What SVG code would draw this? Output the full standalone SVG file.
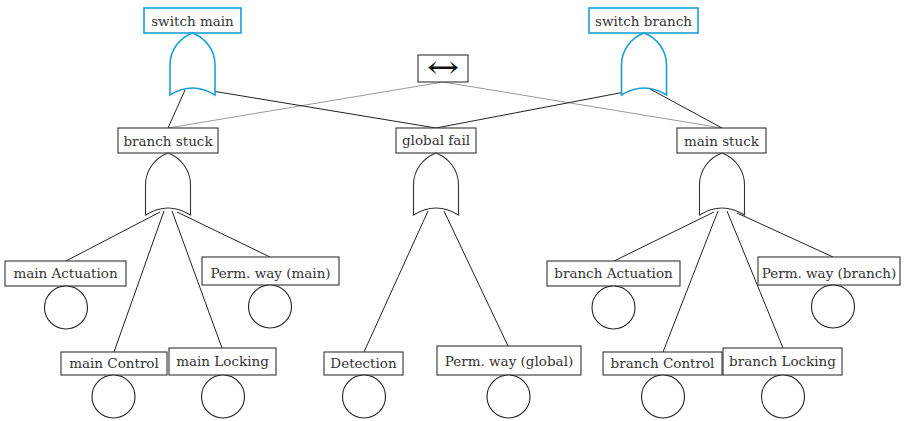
<svg xmlns="http://www.w3.org/2000/svg" width="909" height="421" viewBox="0 0 909 421">
  <defs>
    <style>
      .box { fill: #fff; stroke: #333; stroke-width: 1.1; }
      .box.top { stroke: #1a9fd6; stroke-width: 1.6; }
      .gate { fill: #fff; stroke: #333; stroke-width: 1.1; }
      .gate.top { stroke: #1a9fd6; stroke-width: 1.6; }
      .ev { fill: #fff; stroke: #222; stroke-width: 1.1; }
      .lbl { font-family: "DejaVu Serif", serif; font-size: 13.5px; fill: #333; text-anchor: middle; }
      .edge { stroke: #222; stroke-width: 1; fill: none; }
      .equiv { stroke: #999; stroke-width: 1; fill: none; }
    </style>
    <!-- OR gate outline, top point at (0,0), 45 wide, 62 tall -->
    <path id="orgate" d="M -22.5,62 L -22.5,32 C -22.5,17 -13,5 0,0 C 13,5 22.5,17 22.5,32 L 22.5,62 Q 0,48 -22.5,62 Z"/>
  </defs>

  <!-- connectors -->
  <g id="connectors">
    <line class="equiv" x1="443" y1="82" x2="168" y2="128"/>
    <line class="equiv" x1="443" y1="82" x2="722" y2="128"/>
    <line class="edge" x1="185" y1="90" x2="168" y2="128"/>
    <line class="edge" x1="200" y1="89" x2="436" y2="128"/>
    <line class="edge" x1="630" y1="91" x2="436" y2="128"/>
    <line class="edge" x1="650" y1="89" x2="722" y2="128"/>
    <!-- branch stuck inputs -->
    <line class="edge" x1="160" y1="212" x2="66" y2="261"/>
    <line class="edge" x1="164" y1="211" x2="114" y2="352"/>
    <line class="edge" x1="172" y1="211" x2="222" y2="348"/>
    <line class="edge" x1="177" y1="212" x2="270" y2="257"/>
    <!-- global fail inputs -->
    <line class="edge" x1="428" y1="211" x2="364" y2="352"/>
    <line class="edge" x1="444" y1="211" x2="508" y2="346"/>
    <!-- main stuck inputs -->
    <line class="edge" x1="714" y1="212" x2="614" y2="261"/>
    <line class="edge" x1="718" y1="211" x2="663" y2="352"/>
    <line class="edge" x1="727" y1="211" x2="783" y2="348"/>
    <line class="edge" x1="737" y1="213" x2="833" y2="257"/>
  </g>

  <!-- top events -->
  <g id="switch-main">
    <rect class="box top" x="144" y="8" width="97" height="25"/>
    <text class="lbl" x="192.5" y="26">switch main</text>
    <use href="#orgate" class="gate top" transform="translate(192.5,33)"/>
  </g>
  <g id="switch-branch">
    <rect class="box top" x="589" y="8" width="109" height="25"/>
    <text class="lbl" x="643.5" y="26">switch branch</text>
    <use href="#orgate" class="gate top" transform="translate(644,33)"/>
  </g>

  <!-- equivalence marker -->
  <g id="equivalence">
    <rect class="box" x="418" y="55" width="50" height="27"/>
    <text class="lbl" x="0" y="0" transform="translate(443,78) scale(1.2,1)" style="font-size:32px; fill:#111" font-family="DejaVu Sans, sans-serif">↔</text>
  </g>

  <!-- intermediate events -->
  <g id="branch-stuck">
    <rect class="box" x="118" y="128" width="100" height="25"/>
    <text class="lbl" x="168" y="146">branch stuck</text>
    <use href="#orgate" class="gate" transform="translate(168,153)"/>
  </g>
  <g id="global-fail">
    <rect class="box" x="396" y="128" width="80" height="25"/>
    <text class="lbl" x="436" y="144.5">global fail</text>
    <use href="#orgate" class="gate" transform="translate(436,153)"/>
  </g>
  <g id="main-stuck">
    <rect class="box" x="677" y="128" width="89" height="25"/>
    <text class="lbl" x="721.5" y="146">main stuck</text>
    <use href="#orgate" class="gate" transform="translate(722,153)"/>
  </g>

  <!-- basic events, branch stuck -->
  <g id="main-actuation">
    <rect class="box" x="5" y="261" width="121" height="25"/>
    <text class="lbl" x="65.5" y="278">main Actuation</text>
    <circle class="ev" cx="66" cy="307.5" r="21.5"/>
  </g>
  <g id="perm-way-main">
    <rect class="box" x="202" y="257" width="137" height="28"/>
    <text class="lbl" x="270.5" y="277.5">Perm. way (main)</text>
    <circle class="ev" cx="270" cy="306.5" r="21.5"/>
  </g>
  <g id="main-control">
    <rect class="box" x="61" y="352" width="106" height="23"/>
    <text class="lbl" x="114" y="368">main Control</text>
    <circle class="ev" cx="113.5" cy="396.5" r="21.5"/>
  </g>
  <g id="main-locking">
    <rect class="box" x="169" y="348" width="107" height="27"/>
    <text class="lbl" x="222.5" y="366">main Locking</text>
    <circle class="ev" cx="223" cy="396.5" r="21.5"/>
  </g>

  <!-- basic events, global fail -->
  <g id="detection">
    <rect class="box" x="324" y="352" width="79" height="23"/>
    <text class="lbl" x="363.5" y="368">Detection</text>
    <circle class="ev" cx="364" cy="396.5" r="21.5"/>
  </g>
  <g id="perm-way-global">
    <rect class="box" x="437" y="346" width="144" height="29"/>
    <text class="lbl" x="509" y="365.5">Perm. way (global)</text>
    <circle class="ev" cx="508.5" cy="396.5" r="21.5"/>
  </g>

  <!-- basic events, main stuck -->
  <g id="branch-actuation">
    <rect class="box" x="547" y="261" width="133" height="25"/>
    <text class="lbl" x="613.5" y="278">branch Actuation</text>
    <circle class="ev" cx="613.5" cy="307.5" r="21.5"/>
  </g>
  <g id="perm-way-branch">
    <rect class="box" x="758" y="257" width="142" height="28"/>
    <text class="lbl" x="829" y="277.5">Perm. way (branch)</text>
    <circle class="ev" cx="833" cy="306.5" r="21.5"/>
  </g>
  <g id="branch-control">
    <rect class="box" x="603" y="352" width="119" height="23"/>
    <text class="lbl" x="662.5" y="368">branch Control</text>
    <circle class="ev" cx="663" cy="396.5" r="21.5"/>
  </g>
  <g id="branch-locking">
    <rect class="box" x="723" y="348" width="119" height="27"/>
    <text class="lbl" x="782.5" y="366">branch Locking</text>
    <circle class="ev" cx="783" cy="396.5" r="21.5"/>
  </g>
</svg>
